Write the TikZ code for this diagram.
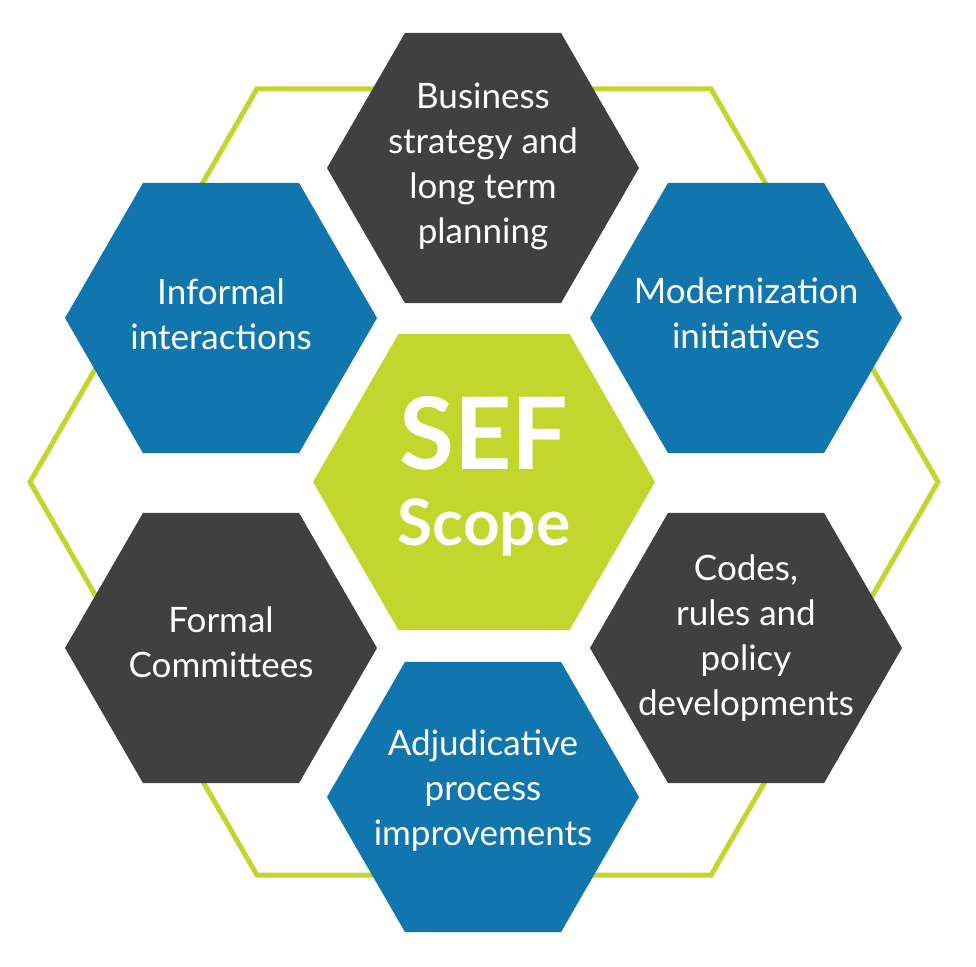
\documentclass[tikz,border=0pt]{standalone}
\usepackage{fontspec}
\setmainfont{Lato}
\usetikzlibrary{shapes.geometric}
\definecolor{sefgreen}{HTML}{C2D62E}
\definecolor{sefblue}{HTML}{1176AE}
\definecolor{sefgray}{HTML}{404040}
\tikzset{
  hexa/.style={regular polygon,regular polygon sides=6,inner sep=0pt,
    minimum size=312pt},
  bluehex/.style={hexa,fill=sefblue},
  grayhex/.style={hexa,fill=sefgray},
  hextext/.style={text=white,align=center,inner sep=0pt,
    font=\fontsize{35}{45}\selectfont},
}
\begin{document}
\begin{tikzpicture}[x=1pt,y=-1pt]
  \useasboundingbox (0,0) rectangle (976,966);
  % outline
  \node[hexa,minimum size=908pt,draw=sefgreen,line width=5pt] (ring) at (484,482) {};
  % ring of topics
  \node[grayhex] (strategy) at (483,168) {};
  \node[bluehex] (informal) at (221,318) {};
  \node[bluehex] (modern) at (746,318) {};
  \node[grayhex] (formal) at (221,648) {};
  \node[grayhex] (codes) at (746,648) {};
  \node[bluehex] (adjud) at (483,797) {};
  \node[hextext,yshift=2pt] (strategy-t) at (strategy) {Business\\strategy and\\long term\\planning};
  \node[hextext,yshift=4pt] (informal-t) at (informal) {Informal\\interactions};
  \node[hextext,yshift=5pt] (modern-t) at (modern) {Modernization\\initiatives};
  \node[hextext,yshift=6pt] (formal-t) at (formal) {Formal\\Committees};
  \node[hextext,yshift=10pt] (codes-t) at (codes) {Codes,\\rules and\\policy\\developments};
  \node[hextext,yshift=6pt] (adjud-t) at (adjud) {Adjudicative\\process\\improvements};
  % centre
  \node[hexa,fill=sefgreen,minimum size=342pt] (sef) at (484,482) {};
  \node[hextext,font=\bfseries\fontsize{64}{76}\selectfont] (sef-t) at (484,476)
    {{\fontsize{100}{76}\selectfont SEF}\\Scope};
\end{tikzpicture}
\end{document}
